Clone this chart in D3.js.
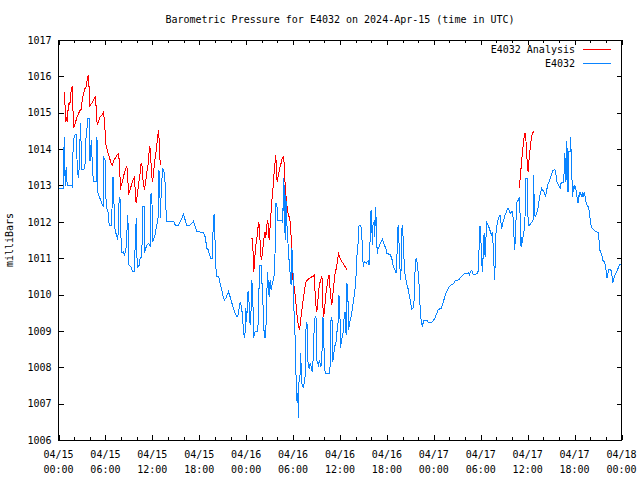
<!DOCTYPE html>
<html><head><meta charset="utf-8">
<script src="https://cdn.jsdelivr.net/npm/d3@7"></script>
<style>
html,body{margin:0;padding:0;background:#fff;}
svg{display:block;}
text{font-family:"DejaVu Sans Mono","Liberation Mono",monospace;font-size:10px;fill:#000;}
</style></head><body>
<svg id="chart" width="640" height="480"></svg>
<script>
const chartTitle = "Barometric Pressure for E4032 on 2024-Apr-15 (time in UTC)";
const yAxisLabel = "milliBars";
const seriesNames = ["E4032 Analysis", "E4032"];
const seriesColors = ["#ff0000", "#0a84ff"];
const yTickValues = [1006,1007,1008,1009,1010,1011,1012,1013,1014,1015,1016,1017];
const startUTC = Date.UTC(2024, 3, 15, 0, 0);
const xTickHours = [0,6,12,18,24,30,36,42,48,54,60,66,72];
const xMinorHours = [2,4,8,10,14,16,20,22,26,28,32,34,38,40,44,46,50,52,56,58,62,64,68,70];

// E4032 observations: hours since 2024-04-15 00:00 UTC, pressure in mb
const obsHours = [0.00,0.60,0.73,0.86,0.98,1.11,1.71,1.79,1.88,2.13,
2.26,2.33,2.39,2.56,2.65,2.81,2.99,3.25,3.41,3.50,
3.63,3.76,3.96,4.01,4.09,4.18,4.40,4.47,4.82,4.86,
4.99,5.04,5.20,5.46,5.75,5.80,5.97,6.10,6.39,6.48,
6.83,6.87,7.03,7.16,7.34,7.59,7.76,7.93,8.02,8.31,
8.44,8.62,8.69,8.87,9.00,9.29,9.46,9.72,9.84,9.97,
10.06,10.23,10.36,10.44,10.66,10.74,10.96,10.99,11.08,11.30,
11.51,11.72,11.81,11.94,12.02,12.14,12.36,12.49,12.62,12.75,
12.78,12.96,13.00,13.13,13.30,13.47,13.64,13.73,13.86,14.70,
14.83,14.96,15.34,15.56,15.78,15.98,16.20,16.41,16.84,17.05,
17.26,17.48,17.69,18.54,18.75,18.88,18.97,19.18,19.27,19.48,
19.69,19.78,19.90,19.99,20.07,20.20,20.45,20.54,20.67,20.89,
20.97,21.22,21.40,21.57,21.73,21.91,22.08,22.24,22.42,22.59,
22.76,22.93,23.10,23.23,23.36,23.45,23.57,23.65,23.78,23.87,
23.96,24.08,24.16,24.25,24.34,24.42,24.51,24.64,24.72,24.85,
24.93,25.06,25.15,25.49,25.62,25.70,25.91,26.00,26.13,26.21,
26.34,26.42,26.51,26.64,26.72,26.85,26.94,27.06,27.19,27.36,
27.54,27.66,27.79,27.92,28.05,28.56,28.69,28.76,28.85,28.89,
28.98,29.07,29.20,29.33,29.40,29.62,29.75,29.84,29.91,30.04,
30.13,30.22,30.35,30.43,30.52,30.60,30.68,30.77,30.90,30.99,
31.06,31.19,31.32,31.41,31.54,31.67,31.83,31.92,32.09,32.18,
32.31,32.43,32.52,32.60,32.69,32.82,32.94,33.03,33.24,33.37,
33.55,33.67,33.80,33.88,34.01,34.13,34.39,34.61,34.73,34.86,
34.99,35.08,35.21,35.34,35.46,35.59,35.76,35.85,35.97,36.05,
36.18,36.31,36.43,36.52,36.65,36.78,36.87,37.00,37.07,37.20,
37.29,37.42,37.55,37.71,37.89,38.02,38.15,38.28,38.35,38.44,
38.66,38.79,38.91,38.99,39.08,39.34,39.50,39.63,39.72,39.81,
39.89,39.97,40.06,40.14,40.23,40.36,40.45,40.53,40.61,40.70,
40.78,40.87,41.00,41.13,41.25,41.42,41.55,41.68,41.86,41.98,
42.28,42.44,42.62,42.79,42.92,43.04,43.17,43.26,43.34,43.43,
43.52,43.59,43.68,43.77,43.85,43.94,44.07,44.16,44.23,44.32,
44.45,44.58,44.74,44.87,45.00,45.09,45.18,45.31,45.43,45.51,
45.60,45.73,45.82,45.89,46.02,46.15,46.24,46.33,46.41,46.53,
46.62,46.75,47.17,47.30,47.74,47.99,48.16,48.28,48.41,48.58,
48.93,49.09,49.22,49.35,49.47,49.65,49.78,49.91,50.20,50.55,
50.71,51.14,51.35,51.57,51.99,52.21,52.41,52.54,52.72,52.85,
52.98,53.05,53.49,53.65,53.74,53.82,53.91,54.00,54.13,54.20,
54.29,54.38,54.46,54.55,54.64,54.72,54.84,54.97,55.10,55.23,
55.35,55.48,55.61,55.70,55.79,55.87,55.96,56.08,56.21,56.34,
56.47,56.56,56.63,56.76,56.89,57.02,57.11,57.23,57.36,57.49,
57.62,57.75,57.96,58.04,58.17,58.26,58.35,58.42,58.51,58.60,
58.73,58.86,58.93,59.02,59.11,59.15,59.24,59.32,59.41,59.50,
59.58,59.66,59.75,60.01,60.05,60.17,60.43,60.69,60.72,60.81,
60.94,61.16,61.29,61.41,61.54,61.67,61.80,62.05,62.31,62.44,
62.56,62.82,62.95,63.08,63.20,63.50,63.63,63.72,64.01,64.14,
64.27,64.39,64.52,64.65,64.74,64.81,64.90,64.99,65.07,65.16,
65.25,65.42,65.51,65.58,65.67,65.76,65.84,65.93,66.02,66.18,
66.27,66.35,66.44,66.53,66.61,66.69,66.78,66.91,66.99,67.08,
67.17,67.24,67.33,67.46,67.59,67.72,67.85,67.97,68.10,68.23,
68.61,69.00,69.12,69.21,69.34,69.47,69.60,69.85,69.98,70.06,
70.15,70.24,70.31,70.40,70.66,70.75,70.82,70.91,71.00,71.13,
71.26,71.39,71.51,71.64,71.72,71.93];
const obsValues = [1012.93,1012.93,1014.33,1012.99,1013.51,1013.01,1013.01,1012.93,1014.25,1014.39,
1014.39,1014.20,1013.43,1013.21,1013.51,1014.72,1013.43,1013.43,1013.62,1014.25,
1014.53,1014.83,1014.83,1013.70,1013.70,1014.25,1013.29,1013.10,1013.10,1014.34,
1014.17,1012.79,1012.71,1012.55,1012.41,1013.76,1013.70,1012.41,1012.24,1011.91,
1011.91,1013.21,1013.21,1011.86,1011.69,1011.50,1012.68,1012.60,1011.14,1011.17,
1011.09,1011.23,1011.50,1012.19,1010.81,1010.76,1010.63,1010.63,1011.73,1012.11,
1010.73,1010.79,1010.81,1011.01,1011.01,1012.41,1012.41,1011.14,1011.23,1011.36,
1011.41,1011.32,1012.74,1012.78,1011.45,1011.50,1011.64,1011.82,1011.96,1012.14,
1013.43,1013.33,1012.10,1012.74,1013.47,1013.43,1013.06,1012.37,1012.02,1012.02,
1011.96,1011.90,1011.90,1012.00,1012.10,1012.21,1012.05,1011.91,1011.91,1011.96,
1012.02,1011.87,1011.73,1011.71,1011.59,1011.41,1011.27,1011.23,1011.13,1011.00,
1011.00,1011.91,1012.21,1011.78,1010.95,1010.51,1010.51,1010.45,1010.31,1010.13,
1009.99,1009.85,1009.90,1009.99,1010.08,1009.96,1009.85,1009.71,1009.58,1009.48,
1009.41,1009.41,1009.62,1009.80,1009.71,1009.58,1009.30,1008.98,1008.80,1008.98,
1009.62,1009.25,1009.94,1010.08,1010.03,1009.25,1009.21,1009.62,1010.40,1010.03,
1008.80,1008.93,1008.98,1008.98,1009.90,1010.81,1010.81,1010.40,1009.94,1009.16,
1008.89,1008.80,1008.93,1009.94,1010.63,1010.22,1009.94,1010.40,1010.13,1010.31,
1010.45,1010.72,1012.51,1012.51,1012.05,1012.05,1011.96,1013.20,1012.19,1013.01,
1011.50,1012.74,1011.96,1011.50,1011.18,1010.58,1010.26,1011.27,1011.13,1010.26,
1009.44,1009.12,1008.02,1007.24,1007.05,1007.28,1006.60,1007.74,1007.79,1008.38,
1007.60,1007.51,1007.42,1007.56,1007.74,1009.25,1009.16,1008.02,1007.97,1008.11,
1008.02,1007.88,1008.02,1008.48,1009.03,1009.39,1009.35,1008.20,1008.06,1008.20,
1008.02,1008.15,1009.39,1009.30,1007.97,1007.83,1007.82,1007.83,1008.02,1009.39,
1009.30,1008.15,1008.38,1008.61,1008.61,1008.93,1009.25,1009.99,1009.85,1008.52,
1008.70,1008.89,1008.98,1009.35,1009.53,1008.89,1010.31,1010.22,1009.03,1009.16,
1009.30,1009.39,1009.58,1009.80,1010.08,1010.35,1011.04,1011.27,1011.64,1011.91,
1011.91,1011.64,1011.00,1010.77,1010.90,1010.86,1010.90,1010.92,1010.81,1011.18,
1011.91,1012.33,1011.96,1011.36,1011.96,1012.00,1011.59,1012.42,1012.10,1011.41,
1011.13,1011.27,1011.32,1011.41,1011.45,1011.52,1011.45,1011.36,1011.27,1011.13,
1011.11,1011.09,1011.00,1010.81,1010.72,1010.67,1010.60,1010.81,1011.59,1011.91,
1011.59,1011.13,1010.67,1010.40,1011.00,1011.91,1011.59,1011.04,1010.90,1010.54,
1010.40,1010.26,1010.13,1009.94,1009.85,1009.71,1009.59,1009.62,1009.69,1009.99,
1010.67,1011.00,1010.95,1010.81,1010.58,1010.13,1009.67,1009.39,1009.21,1009.12,
1009.21,1009.30,1009.30,1009.23,1009.23,1009.30,1009.35,1009.44,1009.50,1009.59,
1009.62,1009.71,1009.80,1009.90,1009.99,1010.08,1010.14,1010.20,1010.26,1010.31,
1010.38,1010.40,1010.45,1010.51,1010.58,1010.57,1010.60,1010.54,1010.63,1010.67,
1010.58,1010.54,1010.57,1010.63,1010.90,1011.59,1011.89,1011.59,1010.90,1010.63,
1011.00,1011.59,1011.68,1011.04,1011.27,1012.00,1011.96,1011.89,1011.82,1011.73,
1011.64,1011.73,1011.27,1010.77,1010.40,1011.18,1011.73,1011.91,1012.05,1012.14,
1012.19,1012.10,1011.82,1011.87,1012.05,1012.10,1012.19,1012.25,1012.33,1012.37,
1012.33,1012.23,1012.28,1012.28,1012.05,1011.55,1011.23,1011.55,1012.05,1012.51,
1012.60,1012.60,1012.69,1012.23,1011.59,1011.32,1011.59,1011.41,1011.59,1011.73,
1011.78,1012.14,1013.20,1013.20,1011.96,1011.89,1011.96,1012.05,1013.29,1012.78,
1012.14,1012.23,1012.34,1012.51,1012.69,1012.83,1012.92,1012.83,1012.71,1012.88,
1013.01,1013.15,1013.24,1013.33,1013.41,1013.43,1013.29,1013.10,1012.99,1012.92,
1013.06,1013.10,1013.06,1013.33,1013.90,1013.61,1013.10,1014.23,1013.88,1012.83,
1013.93,1013.93,1014.34,1013.61,1013.15,1012.69,1012.97,1012.92,1013.01,1012.88,
1012.74,1012.60,1012.53,1012.74,1012.69,1012.83,1012.78,1012.69,1012.83,1012.69,
1012.78,1012.80,1012.71,1012.55,1012.46,1012.42,1012.33,1012.10,1011.91,1011.82,
1011.75,1011.70,1011.50,1011.23,1011.18,1011.09,1010.95,1010.88,1010.77,1010.58,
1010.45,1010.54,1010.63,1010.69,1010.67,1010.57,1010.45,1010.33,1010.42,1010.51,
1010.57,1010.63,1010.69,1010.77,1010.81,1010.84];

// E4032 Analysis: three runs separated by null gaps
const anaHours = [0.73,0.86,0.95,1.02,1.11,1.20,1.28,1.37,1.46,1.53,
1.62,1.71,1.79,1.84,1.92,2.01,2.13,2.26,2.39,2.56,
2.74,2.90,2.99,3.12,3.25,3.38,3.50,3.58,3.71,3.80,
3.89,3.96,4.09,4.22,4.35,4.47,4.60,4.69,4.78,4.86,
4.95,5.08,5.20,5.33,5.46,5.59,5.68,5.75,5.84,5.93,
6.01,6.10,6.23,6.35,6.48,6.61,6.74,6.87,6.99,7.12,
7.25,7.38,7.50,7.67,7.76,7.85,7.93,8.02,8.11,8.23,
8.36,8.49,8.62,8.74,8.87,8.95,9.08,9.20,9.33,9.46,
9.59,9.68,9.77,9.84,9.93,10.02,10.15,10.23,10.32,10.41,
10.48,10.57,10.66,10.74,10.83,10.92,10.99,11.08,11.17,11.25,
11.34,11.43,11.51,11.60,11.68,11.76,11.85,11.94,12.02,12.11,
12.20,12.27,12.36,12.45,12.53,12.62,12.71,12.78,12.87,12.96,
13.00, 18.0,
24.64,24.80,24.89,24.98,25.06,25.15,25.27,25.36,25.44,25.53,
25.62,25.70,25.79,25.87,25.95,26.04,26.13,26.21,26.30,26.42,
26.51,26.59,26.68,26.77,26.85,26.94,27.03,27.10,27.19,27.28,
27.36,27.45,27.54,27.61,27.70,27.79,27.87,27.96,28.05,28.12,
28.21,28.30,28.38,28.47,28.56,28.64,28.73,28.82,28.89,28.98,
29.07,29.15,29.24,29.33,29.40,29.49,29.58,29.66,29.75,29.84,
29.91,29.97,30.04,30.13,30.22,30.30,30.39,30.48,30.55,30.64,
30.73,30.81,30.90,30.99,31.06,31.15,31.24,31.32,31.45,31.58,
31.70,31.83,31.96,32.09,32.27,32.43,32.60,32.73,32.78,32.85,
32.94,33.03,33.11,33.20,33.29,33.37,33.46,33.55,33.62,33.71,
33.75,33.84,33.93,34.01,34.09,34.18,34.26,34.35,34.44,34.52,
34.61,34.70,34.77,34.86,34.95,35.03,35.12,35.21,35.28,35.37,
35.46,35.54,35.63,35.72,35.80,35.88,36.01,36.14,36.27,36.40,
36.52,36.65,36.78,36.91, 48.0,
58.90,58.98,59.06,59.15,59.24,59.32,59.41,59.50,59.58,59.66,
59.75,59.79,59.88,59.96,60.05,60.14,60.21,60.30,60.39,60.47,
60.56,60.65,60.72,60.85];
const anaValues = [1015.58,1015.12,1014.75,1014.89,1014.75,1015.03,1015.17,1015.30,1015.21,1015.49,
1015.58,1015.70,1015.72,1015.17,1014.57,1014.62,1014.71,1014.80,1014.89,1014.98,
1015.06,1015.09,1015.28,1015.44,1015.55,1015.67,1015.67,1015.81,1015.95,1016.04,
1015.85,1015.17,1015.21,1015.26,1015.28,1015.35,1015.40,1015.42,1015.26,1014.98,
1014.66,1014.75,1014.82,1014.89,1014.91,1014.94,1014.98,1015.01,1014.85,1014.62,
1014.25,1014.07,1013.98,1013.88,1013.79,1013.70,1013.61,1013.56,1013.63,1013.70,
1013.75,1013.79,1013.84,1013.88,1013.70,1013.33,1012.88,1013.01,1013.06,1013.15,
1013.29,1013.38,1013.47,1013.54,1013.20,1012.74,1012.83,1012.92,1013.01,1013.10,
1013.18,1013.22,1013.01,1012.74,1012.51,1012.65,1012.88,1013.01,1013.15,1013.29,
1013.43,1013.61,1013.61,1013.29,1013.10,1012.97,1012.88,1013.01,1013.15,1013.29,
1013.44,1013.52,1013.75,1013.93,1014.07,1013.90,1013.56,1013.24,1013.10,1013.24,
1013.43,1013.61,1013.75,1013.88,1014.07,1014.20,1014.39,1014.53,1014.25,1013.88,
1013.56, null,
1011.53,1011.53,1011.13,1010.63,1010.90,1011.13,1011.41,1011.50,1011.73,1011.87,
1012.00,1011.78,1011.41,1011.09,1010.95,1011.09,1011.27,1011.41,1011.59,1011.73,
1011.55,1011.78,1011.96,1012.05,1011.82,1011.50,1011.73,1012.05,1012.28,1012.55,
1012.78,1012.97,1013.24,1013.47,1013.65,1013.84,1013.43,1013.10,1013.20,1013.29,
1013.38,1013.47,1013.56,1013.61,1013.70,1013.75,1013.79,1013.75,1013.43,1013.06,
1012.78,1012.55,1012.42,1012.28,1012.19,1012.14,1012.05,1011.96,1011.59,1011.32,
1010.86,1010.45,1010.31,1010.22,1010.08,1009.90,1009.71,1009.48,1009.35,1009.21,
1009.12,1009.03,1009.16,1009.35,1009.48,1009.62,1009.76,1009.90,1010.08,1010.31,
1010.38,1010.40,1010.42,1010.45,1010.47,1010.49,1010.51,1010.54,1010.22,1009.90,
1009.67,1009.53,1009.67,1009.90,1010.13,1010.26,1010.35,1010.40,1010.49,1010.45,
1009.99,1009.58,1009.39,1009.58,1009.76,1009.99,1010.13,1010.26,1010.40,1010.49,
1010.54,1010.26,1010.03,1009.85,1009.71,1009.85,1010.08,1010.26,1010.45,1010.58,
1010.67,1010.72,1010.86,1011.00,1011.13,1011.09,1011.00,1010.95,1010.90,1010.86,
1010.81,1010.77,1010.72,1010.69, null,
1012.92,1013.06,1013.24,1013.47,1013.70,1013.88,1014.07,1014.25,1014.36,1014.43,
1014.43,1014.20,1013.88,1013.52,1013.38,1013.61,1013.79,1013.98,1014.16,1014.30,
1014.39,1014.45,1014.47,1014.48];

const HOUR = 3600000;
const toDate = h => new Date(startUTC + h * HOUR);

const svg = d3.select("#chart");
const L = 58.5, R = 621.5, T = 40, B = 440;

const x = d3.scaleUtc().domain([toDate(0), toDate(72)]).range([L, R]);
const y = d3.scaleLinear().domain([1006, 1017]).range([B, T]);

// Title
svg.append("text").attr("x", 340).attr("y", 23).attr("text-anchor", "middle").text(chartTitle);

// Y label
svg.append("text").attr("transform", "translate(13,240) rotate(-90)").attr("text-anchor", "middle").text(yAxisLabel);

// Left axis with labels
svg.append("g").attr("transform", `translate(${L},0)`)
  .call(d3.axisLeft(y).tickValues(yTickValues).tickFormat(d3.format("d")).tickSizeInner(-5).tickSizeOuter(0).tickPadding(7))
  .call(g => g.select(".domain").remove())
  .call(g => g.selectAll("line").attr("stroke", "#000").attr("shape-rendering", "crispEdges"))
  .call(g => g.selectAll("text").attr("font-family", null).attr("font-size", null).style("font-size","10px"));
// Right mirror ticks
svg.append("g").attr("transform", `translate(${R},0)`)
  .call(d3.axisRight(y).tickValues(yTickValues).tickFormat("").tickSizeInner(-5).tickSizeOuter(0))
  .call(g => g.select(".domain").remove())
  .call(g => g.selectAll("line").attr("stroke", "#000").attr("shape-rendering", "crispEdges"));

// X major / minor ticks bottom & top
const majorDates = xTickHours.map(toDate);
const minorDates = xMinorHours.map(toDate);
function xTicks(axisFn, pos, vals, size) {
  svg.append("g").attr("transform", `translate(0,${pos})`)
    .call(axisFn(x).tickValues(vals).tickFormat("").tickSizeInner(-size).tickSizeOuter(0))
    .call(g => g.select(".domain").remove())
    .call(g => g.selectAll("line").attr("stroke", "#000").attr("shape-rendering", "crispEdges"));
}
xTicks(d3.axisBottom, B, majorDates, 5);
xTicks(d3.axisBottom, B, minorDates, 3);
xTicks(d3.axisTop, T, majorDates, 5);
xTicks(d3.axisTop, T, minorDates, 3);

// X labels (two lines)
const fmtDay = d3.utcFormat("%m/%d"), fmtTime = d3.utcFormat("%H:%M");
const xl = svg.append("g");
xl.selectAll("text.d").data(majorDates).join("text").attr("class","d")
  .attr("x", d => x(d)).attr("y", 458).attr("text-anchor","middle").text(fmtDay);
xl.selectAll("text.t").data(majorDates).join("text").attr("class","t")
  .attr("x", d => x(d)).attr("y", 473).attr("text-anchor","middle").text(fmtTime);

// Data
const anaData = anaHours.map((h, i) => ({t: toDate(h), v: anaValues[i]}));
const obsData = obsHours.map((h, i) => ({t: toDate(h), v: obsValues[i]}));
const line = d3.line().defined(d => d.v != null).x(d => x(d.t)).y(d => y(d.v));

svg.append("path").datum(anaData).attr("d", line)
  .attr("fill", "none").attr("stroke", seriesColors[0]).attr("stroke-width", 1)
  .attr("shape-rendering", "crispEdges");
svg.append("path").datum(obsData).attr("d", line)
  .attr("fill", "none").attr("stroke", seriesColors[1]).attr("stroke-width", 1)
  .attr("shape-rendering", "crispEdges");

// Frame
svg.append("rect").attr("x", L).attr("y", T).attr("width", R - L).attr("height", B - T)
  .attr("fill", "none").attr("stroke", "#000").attr("shape-rendering", "crispEdges");

// Legend
const legend = svg.append("g");
seriesNames.forEach((name, i) => {
  const ly = 49 + i * 14;
  legend.append("text").attr("x", 575).attr("y", ly + 3.5).attr("text-anchor", "end").text(name);
  legend.append("line").attr("x1", 583).attr("x2", 611).attr("y1", ly + 0.5).attr("y2", ly + 0.5)
    .attr("stroke", seriesColors[i]).attr("stroke-width", 1).attr("shape-rendering", "crispEdges");
});
</script>
</body></html>
